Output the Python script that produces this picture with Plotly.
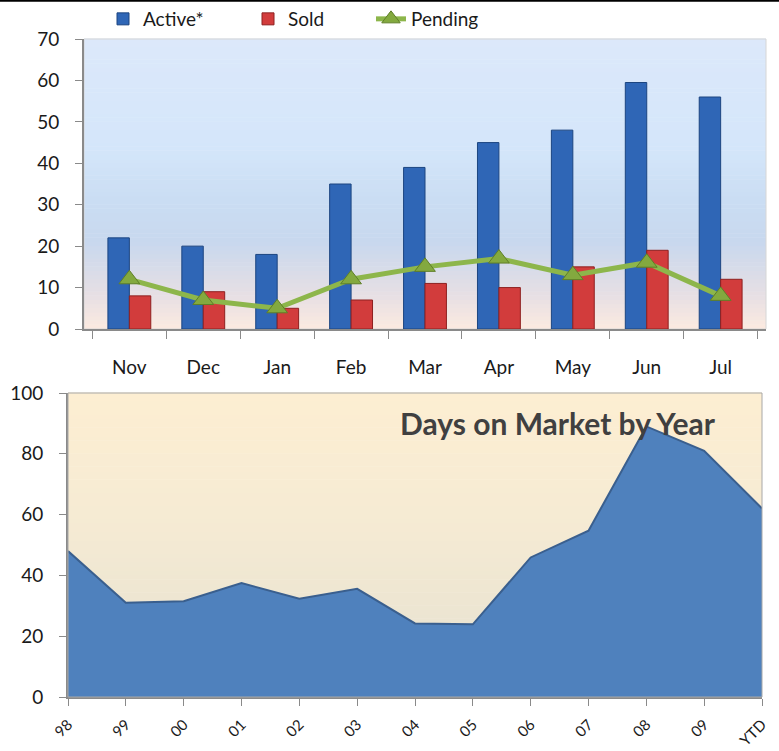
import plotly.graph_objects as go

# ---------------- data ----------------
months = ["Nov", "Dec", "Jan", "Feb", "Mar", "Apr", "May", "Jun", "Jul"]
active = [22, 20, 18, 35, 39, 45, 48, 59.5, 56]
sold = [8, 9, 5, 7, 11, 10, 15, 19, 12]
pending = [12, 7, 5, 12, 15, 17, 13, 16, 8]

years = ["98", "99", "00", "01", "02", "03", "04", "05", "06", "07", "08", "09", "YTD"]
days_on_market = [48, 31, 31.5, 37.5, 32.3, 35.6, 24.2, 23.9, 45.9, 54.7, 89, 81, 62]

top_ticks = [0, 10, 20, 30, 40, 50, 60, 70]
bottom_ticks = [0, 20, 40, 60, 80, 100]

W, H = 779, 751
FONT = "Lato"


def px_x(p):
    return p / W


def px_y(p):
    return 1 - p / H


def hex2rgb(h):
    h = h.lstrip("#")
    return tuple(int(h[i:i + 2], 16) for i in (0, 2, 4))


def interp(stops, t):
    for (t0, c0), (t1, c1) in zip(stops, stops[1:]):
        if t0 <= t <= t1:
            f = (t - t0) / (t1 - t0) if t1 > t0 else 0
            a, b = hex2rgb(c0), hex2rgb(c1)
            r = [round(a[i] + (b[i] - a[i]) * f) for i in range(3)]
            return "rgb(%d,%d,%d)" % tuple(r)
    return stops[-1][1]


def bands(xref, yref, stops, n=70):
    out = []
    for i in range(n):
        y0, y1 = i / n, (i + 1) / n
        out.append(dict(type="rect", xref=xref, yref=yref, x0=0, x1=1,
                        y0=y0, y1=y1 + 0.002, layer="below",
                        line=dict(width=0),
                        fillcolor=interp(stops, (y0 + y1) / 2)))
    return out


top_stops = [(0, "#FCEAE0"), (0.12, "#E6DFE4"), (0.3, "#C8D8EE"),
             (0.45, "#CADDF3"), (0.62, "#D4E6FA"), (1, "#DCE8FA")]
bot_stops = [(0, "#E6E0D2"), (0.25, "#ECE5D2"), (0.6, "#F6EBD3"), (1, "#FDEED2")]

fig = go.Figure()

fig.add_trace(go.Bar(
    x=months, y=active, name="Active*", xaxis="x", yaxis="y",
    marker=dict(color="#2F66B6", line=dict(color="#1C4580", width=1)),
    legend="legend"))
fig.add_trace(go.Bar(
    x=months, y=sold, name="Sold", xaxis="x", yaxis="y",
    marker=dict(color="#D23C3C", line=dict(color="#8E2020", width=1)),
    legend="legend2"))
fig.add_trace(go.Scatter(
    x=months, y=pending, name="Pending", xaxis="x", yaxis="y",
    mode="lines+markers",
    line=dict(color="#8DB64B", width=5),
    marker=dict(symbol="triangle-up", size=18, color="#83A93F",
                line=dict(color="#5F7F28", width=1)),
    legend="legend3"))

fig.add_trace(go.Scatter(
    x=years, y=days_on_market, xaxis="x2", yaxis="y2",
    mode="lines", fill="tozeroy", fillcolor="#4F81BD",
    line=dict(color="#3A5F8E", width=2), showlegend=False))

axis_font = dict(family=FONT, size=19, color="#1A1A1A")

shapes = []
shapes += bands("x domain", "y domain", top_stops)
shapes += bands("x2 domain", "y2 domain", bot_stops)
# light plot-area borders
shapes.append(dict(type="rect", xref="x domain", yref="y domain", x0=0, x1=1, y0=0, y1=1,
                   line=dict(color="#D6D6D6", width=1), layer="below"))
shapes.append(dict(type="rect", xref="x2 domain", yref="y2 domain", x0=0, x1=1, y0=0, y1=1,
                   line=dict(color="#A8A8A8", width=1), layer="above"))
# black rule at the very top
shapes.append(dict(type="line", xref="paper", yref="paper", x0=0, x1=1, y0=0.999, y1=0.999,
                   line=dict(color="#000000", width=2)))

legend_common = dict(orientation="h", yanchor="top", y=1.0, xanchor="left",
                     bgcolor="rgba(0,0,0,0)", font=dict(family=FONT, size=19, color="#1A1A1A"))

fig.update_layout(
    width=W, height=H,
    margin=dict(l=0, r=0, t=0, b=0),
    paper_bgcolor="white",
    plot_bgcolor="rgba(0,0,0,0)",
    barmode="group", bargap=0.42, bargroupgap=0,
    shapes=shapes,
    legend=dict(x=px_x(103), **legend_common),
    legend2=dict(x=px_x(248), **legend_common),
    legend3=dict(x=px_x(371), **legend_common),
    xaxis=dict(domain=[px_x(84), px_x(766)], anchor="y",
               type="category", tickson="boundaries",
               ticks="outside", ticklen=8, tickcolor="#8A8A8A",
               showline=True, linecolor="#8A8A8A", linewidth=2,
               showgrid=False, tickfont=axis_font, ticklabelstandoff=20,
               automargin=False, fixedrange=True),
    yaxis=dict(domain=[px_y(329), px_y(39)], anchor="x",
               range=[0, 70], tickvals=top_ticks,
               ticks="outside", ticklen=7, tickcolor="#8A8A8A",
               showline=True, linecolor="#8A8A8A", linewidth=2,
               showgrid=False, zeroline=False, tickfont=axis_font,
               ticklabelstandoff=12, automargin=False),
    xaxis2=dict(domain=[px_x(68), px_x(762)], anchor="y2",
                type="category", range=[0, len(years) - 1],
                ticks="outside", ticklen=7, tickcolor="#8A8A8A",
                showline=True, linecolor="#8A8A8A", linewidth=2,
                showgrid=False, tickangle=-45, ticklabelstandoff=4,
                tickfont=dict(family=FONT, size=15, color="#1A1A1A"),
                automargin=False),
    yaxis2=dict(domain=[px_y(697), px_y(393)], anchor="x2",
                range=[0, 100], tickvals=bottom_ticks,
                ticks="outside", ticklen=7, tickcolor="#8A8A8A",
                showline=True, linecolor="#8A8A8A", linewidth=2,
                showgrid=False, zeroline=False, tickfont=axis_font,
                ticklabelstandoff=12, automargin=False),
    annotations=[dict(text="<b>Days on Market by Year</b>", xref="paper", yref="paper",
                      x=px_x(718), y=px_y(423), xanchor="right", yanchor="middle",
                      showarrow=False,
                      font=dict(family=FONT, size=30, color="#404040"))],
)

fig.write_html("out.html",
               config={"displayModeBar": False},
               post_script="document.body.style.margin='0px';document.body.style.overflow='hidden';")
